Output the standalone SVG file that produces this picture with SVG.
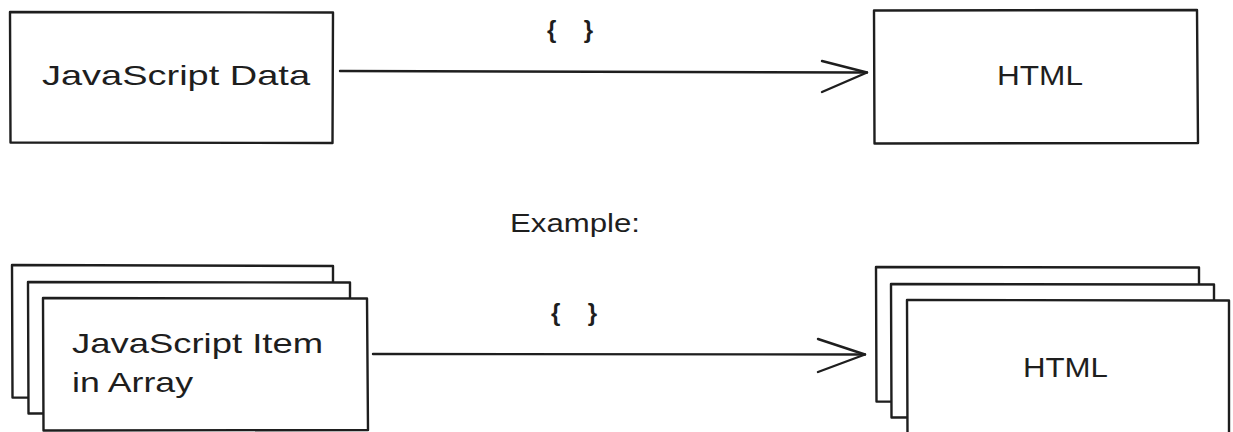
<svg xmlns="http://www.w3.org/2000/svg" width="1233" height="432" viewBox="0 0 1233 432">
<style>
.box{fill:#fff;stroke:#1e1e1e;stroke-width:2.4;stroke-linejoin:round;stroke-linecap:round}
.line{fill:none;stroke:#1e1e1e;stroke-width:2.4;stroke-linecap:round;stroke-linejoin:round}
.t{font-family:"Liberation Sans",Arial,sans-serif;fill:#1e1e1e}
.br{font-family:"Liberation Sans",Arial,sans-serif;fill:#1e1e1e;font-size:24px;font-weight:bold}
</style>
<rect width="1233" height="432" fill="#fff"/>
<g id="js-data">
<path class="box" d="M10 12 L333 12.5 L332.5 143 L10.5 142.5 Z"/>
<text class="t" x="42" y="85" font-size="28" textLength="268" lengthAdjust="spacingAndGlyphs">JavaScript Data</text>
</g>
<g id="html-top">
<path class="box" d="M874 10.5 L1197 10 L1198 143 L874.5 143.5 Z"/>
<text class="t" x="997" y="85" font-size="28" textLength="86" lengthAdjust="spacingAndGlyphs">HTML</text>
</g>
<g id="example-label">
<text class="t" x="510" y="232" font-size="26" textLength="130" lengthAdjust="spacingAndGlyphs">Example:</text>
</g>
<g id="js-items">
<path class="box" d="M12 265 L333 266 L333 398 L12.5 397.5 Z"/>
<path class="box" d="M28 282 L350 282.5 L350 413 L28.5 413.5 Z"/>
<path class="box" d="M43 298 L367 298.5 L368 430 L43.5 430.5 Z"/>
<text class="t" x="72" y="353" font-size="28" textLength="251" lengthAdjust="spacingAndGlyphs">JavaScript Item</text>
<text class="t" x="72" y="392" font-size="28" textLength="121" lengthAdjust="spacingAndGlyphs">in Array</text>
</g>
<g id="html-items">
<path class="box" d="M876 267 L1199 267.5 L1199 402 L876.5 401.5 Z"/>
<path class="box" d="M891 284 L1214 284.5 L1214 417 L891.5 417.5 Z"/>
<path class="box" d="M907 300 L1229 300.5 L1229 434 L907.5 434 Z"/>
<text class="t" x="1023" y="377" font-size="28" textLength="85" lengthAdjust="spacingAndGlyphs">HTML</text>
</g>
<g id="connectors">
<path class="line" d="M340 71 L867 72.5"/>
<path class="line" d="M822 61 L867 72.5 L822 92"/>
<text class="br" x="547" y="38" textLength="46" lengthAdjust="spacing">{ }</text>
<path class="line" d="M373 354 L865 354.5"/>
<path class="line" d="M818 339 L865 354.5 L818 372"/>
<text class="br" x="551" y="321" textLength="46" lengthAdjust="spacing">{ }</text>
</g>
</svg>
